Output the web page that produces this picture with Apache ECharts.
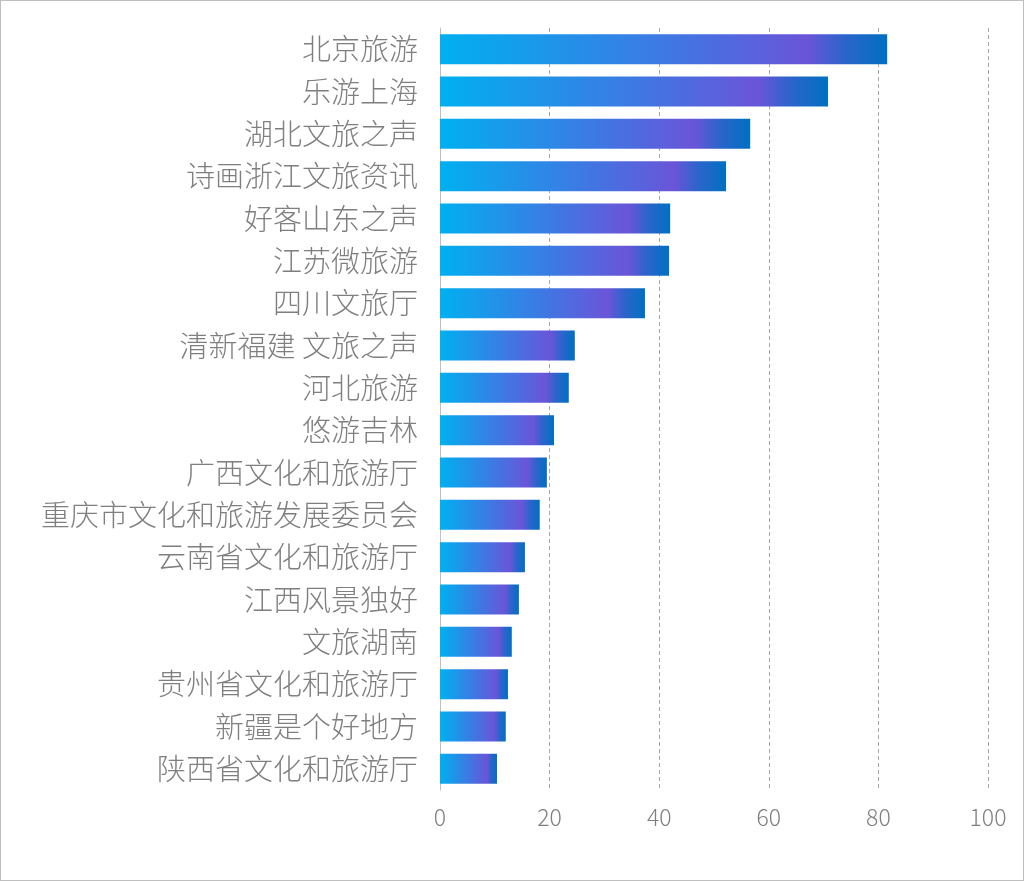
<!DOCTYPE html><html><head><meta charset="utf-8">
<script src="https://cdn.jsdelivr.net/npm/echarts@6/dist/echarts.min.js"></script>
<style>html,body{margin:0;padding:0;background:#fff}#c{width:1022px;height:879px;border:1px solid #bfbfbf}</style>
</head><body><div id="c"></div><script>
const categories=["北京旅游","乐游上海","湖北文旅之声","诗画浙江文旅资讯","好客山东之声","江苏微旅游","四川文旅厅","清新福建 文旅之声","河北旅游","悠游吉林","广西文化和旅游厅","重庆市文化和旅游发展委员会","云南省文化和旅游厅","江西风景独好","文旅湖南","贵州省文化和旅游厅","新疆是个好地方","陕西省文化和旅游厅"];
const values=[81.6,70.8,56.6,52.2,42.0,41.8,37.4,24.6,23.5,20.8,19.5,18.2,15.5,14.4,13.1,12.4,12.0,10.4];
const xTicks=[0,20,40,60,80,100];
const ch=echarts.init(document.getElementById('c'));
ch.setOption({
 animation:false,
 grid:{left:439,right:35,top:27,bottom:90,containLabel:false},
 xAxis:{type:'value',min:0,max:100,interval:20,
  axisLine:{show:false},axisTick:{show:false},
  axisLabel:{color:'#7f7f7f',fontSize:23,margin:16,fontFamily:'Noto Sans CJK SC',fontWeight:300},
  splitLine:{show:true,lineStyle:{color:'#a6a6a6',type:[4,3]}}},
 yAxis:{type:'category',inverse:true,data:categories,
  axisLine:{show:true,lineStyle:{color:'#bfbfbf'}},axisTick:{show:false},
  axisLabel:{color:'#7f7f7f',fontSize:29,margin:22,fontFamily:'Noto Sans CJK SC',fontWeight:300}},
 series:[{type:'bar',data:values,barWidth:30,
  itemStyle:{color:new echarts.graphic.LinearGradient(0,0,1,0,[
   {offset:0,color:'#00b0f0'},{offset:0.6,color:'#4a6ee0'},{offset:0.82,color:'#6a55d8'},{offset:0.9,color:'#2d64cc'},{offset:1,color:'#0070c0'}])}}]
});
</script></body></html>
